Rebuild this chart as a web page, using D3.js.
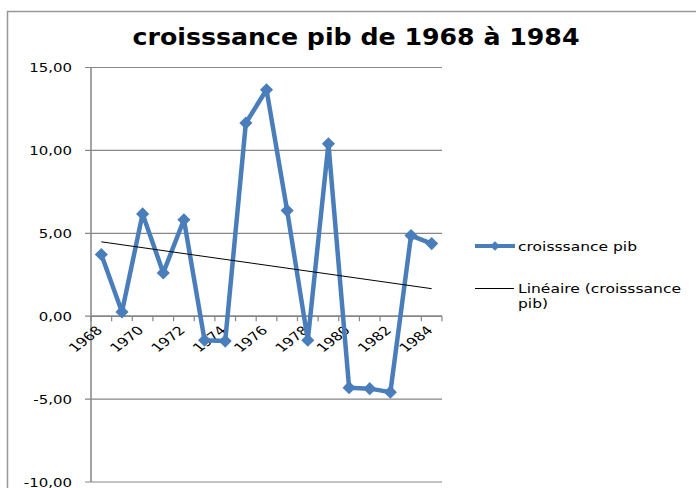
<!DOCTYPE html>
<html>
<head>
<meta charset="utf-8">
<script src="https://cdn.jsdelivr.net/npm/d3@7"></script>
<style>
  body { margin: 0; background: #fff; }
  text { font-family: "DejaVu Sans", Verdana, sans-serif; fill: #000; }
</style>
</head>
<body>
<div id="svgdiv"></div>
<script>
// data
var years = [1968, 1969, 1970, 1971, 1972, 1973, 1974, 1975, 1976, 1977, 1978, 1979, 1980, 1981, 1982, 1983, 1984];
var growth = [3.72, 0.26, 6.17, 2.61, 5.82, -1.45, -1.50, 11.65, 13.66, 6.37, -1.45, 10.40, -4.31, -4.37, -4.58, 4.86, 4.38];
var yTicks = [-10, -5, 0, 5, 10, 15];
var xLabels = [1968, 1970, 1972, 1974, 1976, 1978, 1980, 1982, 1984];

var width = 696, height = 488;
var blue = "#4a7ebb", grid = "#868686";
var stretch = 1.3; // the picture is a bit wider than tall

let svg = d3.select("#svgdiv").append("svg")
    .attr("width", width)
    .attr("height", height);

// chart frame
svg.append("rect")
   .attr("x", 7.5).attr("y", 11.5)
   .attr("width", 720).attr("height", 520)
   .attr("fill", "none")
   .attr("stroke", "#999")
   .attr("stroke-width", 1.5);

// title
svg.append("text")
   .text("croisssance pib de 1968 à 1984")
   .attr("x", 356).attr("y", 45)
   .attr("text-anchor", "middle")
   .attr("font-weight", "bold")
   .attr("font-size", 23)
   .attr("textLength", 447)
   .attr("lengthAdjust", "spacingAndGlyphs");

var x = d3.scaleBand().domain(years).range([91, 442]).padding(0);
var y = d3.scaleLinear().domain([-10, 15]).range([482, 67.5]);
var cx = function(d) { return x(d) + x.bandwidth() / 2; };

// horizontal gridlines
svg.append("g")
   .selectAll("line")
   .data(yTicks)
   .join("line")
   .attr("x1", 85).attr("x2", 442)
   .attr("y1", d => y(d)).attr("y2", d => y(d))
   .attr("stroke", grid)
   .attr("stroke-width", 1.2);

// y axis line
svg.append("line")
   .attr("x1", 91).attr("x2", 91)
   .attr("y1", y(15)).attr("y2", y(-10))
   .attr("stroke", grid)
   .attr("stroke-width", 1.5);

// y labels
svg.append("g")
   .selectAll("text")
   .data(yTicks)
   .join("text")
   .text(d => d3.format(".2f")(d).replace(".", ",").replace("−", "-"))
   .attr("text-anchor", "end")
   .attr("font-size", 11.5)
   .attr("transform", d => "translate(72," + (y(d) + 4.5) + ") scale(" + stretch + ",1)");

// x axis at zero with ticks at band edges
svg.append("line")
   .attr("x1", 91).attr("x2", 442)
   .attr("y1", y(0)).attr("y2", y(0))
   .attr("stroke", grid)
   .attr("stroke-width", 1.5);

var edges = years.map(d => x(d)).concat([x.range()[1]]);
svg.append("g")
   .selectAll("line")
   .data(edges)
   .join("line")
   .attr("x1", d => d).attr("x2", d => d)
   .attr("y1", y(0)).attr("y2", y(0) + 5)
   .attr("stroke", grid)
   .attr("stroke-width", 1.2);

svg.append("g")
   .selectAll("text")
   .data(xLabels)
   .join("text")
   .text(d => d)
   .attr("text-anchor", "end")
   .attr("font-size", 12)
   .attr("transform", d => "translate(" + (cx(d) + 2) + "," + (y(0) + 15) + ") scale(" + stretch + ",1) rotate(-45)");

// linear trend (least squares over the series)
var idx = years.map((d, i) => i);
var mx = d3.mean(idx), my = d3.mean(growth);
var slope = d3.sum(idx, i => (i - mx) * (growth[i] - my)) / d3.sum(idx, i => (i - mx) * (i - mx));
var icpt = my - slope * mx;

// series line
var line = d3.line().x((d, i) => cx(years[i])).y(d => y(d));
svg.append("path")
   .datum(growth)
   .attr("d", line)
   .attr("fill", "none")
   .attr("stroke", blue)
   .attr("stroke-width", 4.5)
   .attr("stroke-linejoin", "round");

var diamond = d3.symbol().type(d3.symbolDiamond2).size(110);
svg.append("g")
   .selectAll("path")
   .data(growth)
   .join("path")
   .attr("d", diamond)
   .attr("transform", (d, i) => "translate(" + cx(years[i]) + "," + y(d) + ")")
   .attr("fill", blue);

svg.append("line")
   .attr("x1", cx(years[0])).attr("x2", cx(years[years.length - 1]))
   .attr("y1", y(icpt)).attr("y2", y(icpt + slope * (years.length - 1)))
   .attr("stroke", "#000")
   .attr("stroke-width", 1);

// legend
var lg = svg.append("g");
lg.append("line")
  .attr("x1", 475).attr("x2", 515).attr("y1", 246).attr("y2", 246)
  .attr("stroke", blue).attr("stroke-width", 4);
lg.append("path")
  .attr("d", d3.symbol().type(d3.symbolDiamond2).size(60))
  .attr("transform", "translate(495,246)")
  .attr("fill", blue);
lg.append("text")
  .text("croisssance pib")
  .attr("x", 518).attr("y", 250.5)
  .attr("font-size", 12.5)
  .attr("textLength", 119)
  .attr("lengthAdjust", "spacingAndGlyphs");

lg.append("line")
  .attr("x1", 475).attr("x2", 514).attr("y1", 288.5).attr("y2", 288.5)
  .attr("stroke", "#000").attr("stroke-width", 1);
lg.append("text")
  .text("Linéaire (croisssance")
  .attr("x", 518).attr("y", 292.5)
  .attr("font-size", 12.5)
  .attr("textLength", 163)
  .attr("lengthAdjust", "spacingAndGlyphs");
lg.append("text")
  .text("pib)")
  .attr("x", 518).attr("y", 308)
  .attr("font-size", 12.5)
  .attr("textLength", 30)
  .attr("lengthAdjust", "spacingAndGlyphs");
</script>
</body>
</html>
